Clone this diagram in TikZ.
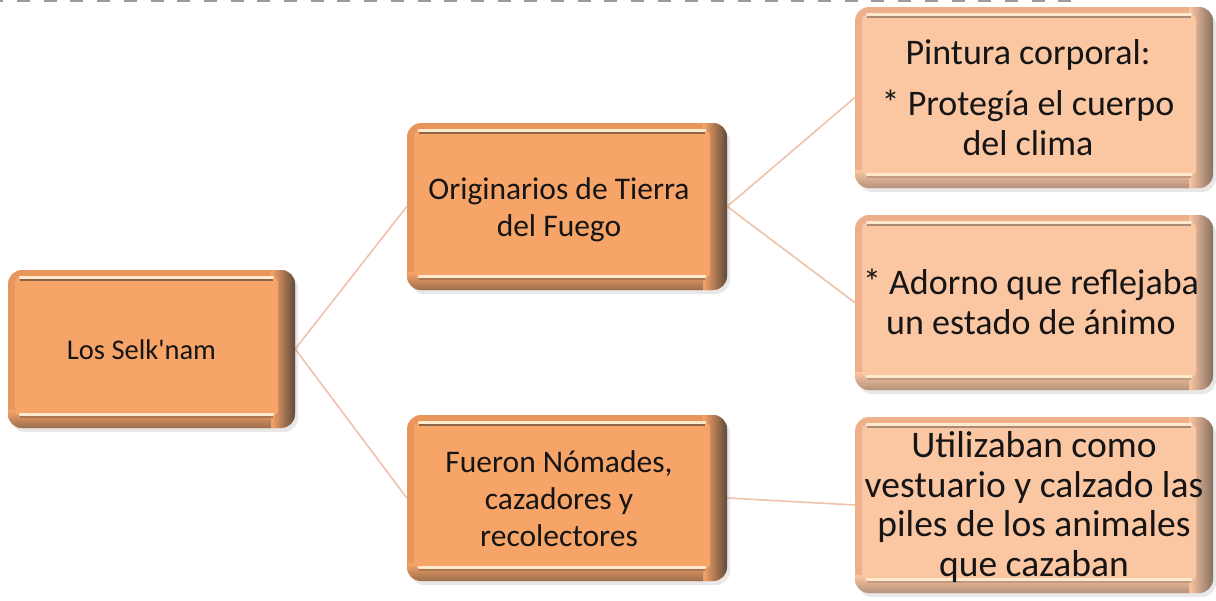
\documentclass[tikz,border=0pt]{standalone}
\usepackage{fontspec}
\setmainfont{Carlito}
\usetikzlibrary{backgrounds,shadows}
\definecolor{mainface}{HTML}{F7A468}
\definecolor{mainedge}{HTML}{E8965C}
\definecolor{maindark}{HTML}{5E4A3C}
\definecolor{subface}{HTML}{FBC6A2}
\definecolor{subedge}{HTML}{EDB08A}
\definecolor{subdark}{HTML}{857062}
\definecolor{hilite}{HTML}{FFE9CC}
\definecolor{linkcol}{HTML}{F0C2AC}
\definecolor{dashcol}{HTML}{9A9A9A}
\definecolor{txt}{HTML}{151515}
% centred lines, moved left by half of #1 and down a little
\newcommand\btxt[2]{\raisebox{-4pt}[\height][\depth]{\begin{tabular}{@{}c@{}}#2\end{tabular}}\hspace*{#1}}
\tikzset{
  bevel/.style n args={3}{
    rounded corners=14pt, fill=#2, text=txt, inner sep=0pt,
    drop shadow={opacity=0.18, shadow xshift=3pt, shadow yshift=-4pt},
    path picture={
      \begin{scope}[sharp corners]
        \shade[left color=#1, right color=#3]
          ([xshift=-24pt]path picture bounding box.north east) rectangle
          (path picture bounding box.south east);
        \shade[top color=#1, bottom color=#3!60!#1]
          ([yshift=18pt]path picture bounding box.south west) rectangle
          ([xshift=-24pt]path picture bounding box.south east);
        \fill[#1, rounded corners=4pt]
          ([shift={(7pt,-8pt)}]path picture bounding box.north west) rectangle
          ([shift={(-17pt,13pt)}]path picture bounding box.south east);
        \draw[hilite, line width=3pt, line cap=round]
          ([shift={(12pt,-7pt)}]path picture bounding box.north west) --
          ([shift={(-22pt,-7pt)}]path picture bounding box.north east);
        \draw[#3!70!#1, line width=1.2pt]
          ([shift={(12pt,-10pt)}]path picture bounding box.north west) --
          ([shift={(-22pt,-10pt)}]path picture bounding box.north east);
        \draw[hilite, line width=3pt, line cap=round]
          ([shift={(12pt,14pt)}]path picture bounding box.south west) --
          ([shift={(-22pt,14pt)}]path picture bounding box.south east);
        \draw[#3!50!#1, line width=1.2pt]
          ([shift={(12pt,11pt)}]path picture bounding box.south west) --
          ([shift={(-22pt,11pt)}]path picture bounding box.south east);
      \end{scope}
    }
  },
  mainbox/.style={bevel={mainface}{mainedge}{maindark},
    font=\fontsize{31.5}{37}\selectfont},
  subbox/.style={bevel={subface}{subedge}{subdark},
    font=\fontsize{36}{40}\selectfont},
  link/.style={draw=linkcol, line width=1.6pt},
}
\begin{document}
\begin{tikzpicture}[x=1pt,y=-1pt]
\useasboundingbox (0,0) rectangle (1216,600);
\coordinate (dl) at (-9.7,0);
\coordinate (dr) at (1073,0);
\draw[dashcol, line width=3pt, dash pattern=on 13pt off 13.7pt] (dl) -- (dr);

\node[mainbox, minimum width=287pt, minimum height=158pt, font=\fontsize{28.5}{34}\selectfont] (selk) at (151.5,349) {\btxt{20pt}{Los Selk\textquotesingle nam}};
\node[mainbox, minimum width=320pt, minimum height=167pt] (orig) at (567,206.5) {\btxt{16pt}{Originarios de Tierra\\del Fuego}};
\node[mainbox, minimum width=320pt, minimum height=166pt] (fuer) at (567,498) {\btxt{16pt}{Fueron Nómades,\\cazadores y\\recolectores}};
\node[subbox, minimum width=358pt, minimum height=181pt] (pint) at (1034,97.5) {\btxt{12pt}{Pintura corporal:\\[11pt]* Protegía el cuerpo\\del clima}};
\node[subbox, minimum width=358pt, minimum height=175pt] (ador) at (1034,302.5) {\btxt{6pt}{* Adorno que reflejaba\\un estado de ánimo}};
\node[subbox, minimum width=358pt, minimum height=176pt, font=\fontsize{37.5}{39.5}\selectfont] (util) at (1034,505) {\btxt{0pt}{Utilizaban como\\vestuario y calzado las\\piles de los animales\\que cazaban}};

\begin{scope}[on background layer]
\draw[link] (selk.east) -- (orig.west);
\draw[link] (selk.east) -- (fuer.west);
\draw[link] (orig.east) -- (pint.west);
\draw[link] (orig.east) -- (ador.west);
\draw[link] (fuer.east) -- (util.west);
\end{scope}
\end{tikzpicture}
\end{document}
